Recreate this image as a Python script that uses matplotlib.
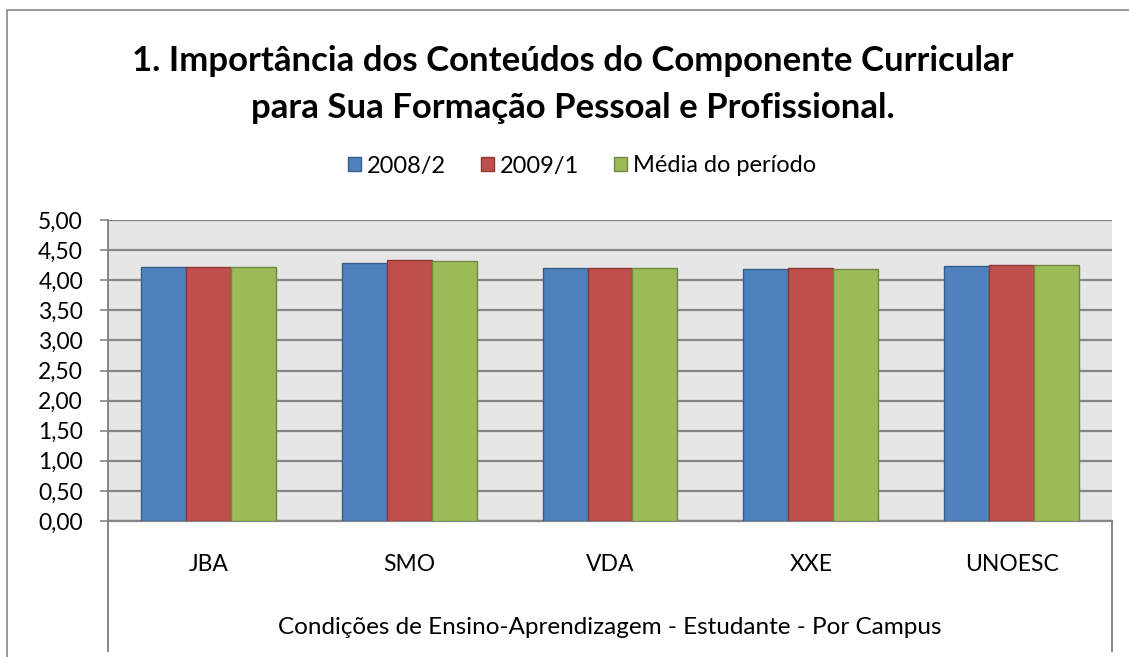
import matplotlib
matplotlib.use("Agg")
import matplotlib.pyplot as plt
import numpy as np
from matplotlib.patches import Rectangle
from matplotlib.lines import Line2D

plt.rcParams['font.family'] = ['Lato', 'DejaVu Sans']

# Data
campus = ['JBA', 'SMO', 'VDA', 'XXE', 'UNOESC']
s2008_2 = [4.22, 4.29, 4.21, 4.19, 4.24]
s2009_1 = [4.22, 4.34, 4.21, 4.20, 4.26]
media = [4.22, 4.32, 4.21, 4.19, 4.25]
series_names = ['2008/2', '2009/1', 'Média do período']
yticks = np.arange(0, 5.01, 0.5)

colors = ['#4F81BD', '#C0504D', '#9BBB59']
edges = ['#385D8A', '#8C3836', '#71893F']

fig = plt.figure(figsize=(11.29, 6.57), dpi=100)
W, H = 1129, 657

# outer chart border
fig.patches.append(Rectangle((7 / W, -0.1), 1.2, 1 - 10 / H + 0.1, transform=fig.transFigure,
                             fill=False, edgecolor='#888888', linewidth=1.2))

ax = fig.add_axes([108 / W, 1 - 521 / H, (1112 - 108) / W, (521 - 220) / H])
ax.set_facecolor('#E6E6E6')

x = np.arange(len(campus))
w = 0.224
for i, vals in enumerate([s2008_2, s2009_1, media]):
    ax.bar(x + (i - 1) * w, vals, w, color=colors[i], edgecolor=edges[i],
           linewidth=1.0, label=series_names[i], zorder=3)

ax.set_xlim(-0.5, len(campus) - 0.5)
ax.set_ylim(0, 5)
ax.set_yticks(yticks)
ax.set_yticklabels([f'{v:.2f}'.replace('.', ',') for v in yticks], fontsize=16.5)
ax.yaxis.grid(True, color='#868686', linewidth=1.6, zorder=0)
ax.tick_params(axis='y', length=6, color='#868686', width=1.2, pad=12)
ax.tick_params(axis='x', length=0)
ax.set_xticks(x)
ax.set_xticklabels(campus, fontsize=16.5)
ax.tick_params(axis='x', pad=24)
for side in ['top', 'right']:
    ax.spines[side].set_visible(False)
ax.spines['left'].set_color('#868686')
ax.spines['left'].set_linewidth(1.4)
ax.spines['bottom'].set_color('#868686')
ax.spines['bottom'].set_linewidth(1.6)

# category axis box lines
ax_h = 521 - 220
drop = (651 - 521) / ax_h
for xa in (0, 1):
    ax.add_line(Line2D([xa, xa], [0, -drop], transform=ax.transAxes, color='#868686',
                       linewidth=1.4, clip_on=False))

ax.text(0.5, -(628 - 521) / ax_h, 'Condições de Ensino-Aprendizagem - Estudante - Por Campus',
        transform=ax.transAxes, ha='center', va='center', fontsize=17.5)

fig.text(573 / W, 1 - 61 / H, '1. Importância dos Conteúdos do Componente Curricular',
         ha='center', va='center', fontsize=25, fontweight='bold')
fig.text(573 / W, 1 - 108 / H, 'para Sua Formação Pessoal e Profissional.',
         ha='center', va='center', fontsize=25, fontweight='bold')

fig.legend(loc='center', bbox_to_anchor=(582 / W, 1 - 166 / H), ncol=3, frameon=False,
           fontsize=17, handlelength=0.55, handleheight=0.55, handletextpad=0.25,
           columnspacing=1.5)

fig.savefig('out.png', dpi=100)
